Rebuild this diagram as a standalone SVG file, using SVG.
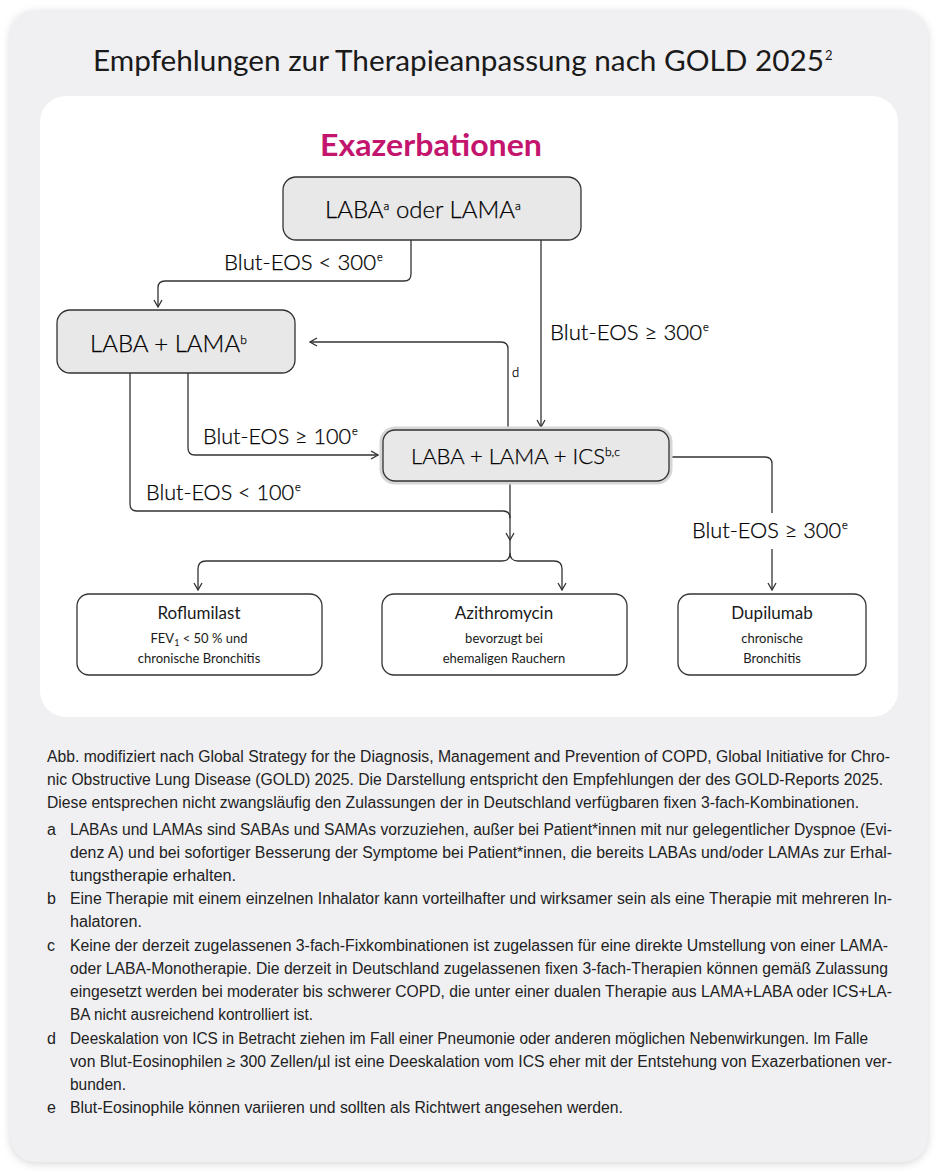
<svg xmlns="http://www.w3.org/2000/svg" width="939" height="1174" viewBox="0 0 939 1174">
<defs>
<style>
.box{fill:#e8e8e8;stroke:#333;stroke-width:1.3}
.wbox{fill:#fff;stroke:#333;stroke-width:1.3}
.ln{fill:none;stroke:#333;stroke-width:1.3}
.t{font-family:Lato,"Open Sans","Liberation Sans",sans-serif;fill:#1a1a1a}
.l{font-weight:300;fill:#000;stroke:#000;stroke-width:0.25}
.fn{font-family:"Liberation Sans",Arial,sans-serif;font-size:16px;fill:#222}
</style>
<marker id="ar" viewBox="0 0 10 10" refX="9" refY="5" markerWidth="10" markerHeight="10" markerUnits="userSpaceOnUse" orient="auto">
<path d="M2,1 L9,5 L2,9" fill="none" stroke="#333" stroke-width="1.3"/>
</marker>
<filter id="sh" x="-5%" y="-5%" width="110%" height="110%">
<feGaussianBlur stdDeviation="4"/>
</filter>
</defs>
<rect x="0" y="0" width="939" height="1174" fill="#fff"/>
<rect x="10" y="12" width="918" height="1152" rx="26" fill="#d8d8da" filter="url(#sh)"/>
<rect x="10" y="10" width="918" height="1152" rx="26" fill="#f0f0f2"/>
<text class="t" x="93" y="71" font-size="28" textLength="731" lengthAdjust="spacingAndGlyphs">Empfehlungen zur Therapieanpassung nach GOLD 2025</text>
<text class="t" x="825" y="60" font-size="13">2</text>
<rect x="40" y="96" width="858" height="621" rx="26" fill="#fff"/>
<text x="431" y="156" text-anchor="middle" font-family="Lato,'Open Sans','Liberation Sans',sans-serif" font-weight="bold" font-size="31" fill="#c3146e" textLength="222" lengthAdjust="spacingAndGlyphs">Exazerbationen</text>

<g id="connectors">
<path class="ln" d="M411,240 V274 Q411,281 404,281 H165 Q158,281 158,288 V307" marker-end="url(#ar)"/>
<path class="ln" d="M541,240 V427" marker-end="url(#ar)"/>
<path class="ln" d="M508,430 V349 Q508,342 501,342 H310" marker-end="url(#ar)"/>
<path class="ln" d="M188,373 V448 Q188,455 195,455 H378" marker-end="url(#ar)"/>
<path class="ln" d="M130,373 V504 Q130,511 137,511 H503 Q510,511 510,518"/>
<path class="ln" d="M510,481 V540" marker-end="url(#ar)"/>
<path class="ln" d="M510,540 V553 Q510,561 502,561 H206 Q198,561 198,569 V590" marker-end="url(#ar)"/>
<path class="ln" d="M510,553 Q510,561 518,561 H554 Q562,561 562,569 V590" marker-end="url(#ar)"/>
<path class="ln" d="M669,457 H765 Q772,457 772,464 V513"/>
<path class="ln" d="M772,549 V590" marker-end="url(#ar)"/>
<text class="t l" x="224" y="270" font-size="21" textLength="152" lengthAdjust="spacingAndGlyphs">Blut-EOS &lt; 300</text><text class="t l" x="377" y="261" font-size="11">e</text>
<text class="t l" x="550" y="340" font-size="21" textLength="152" lengthAdjust="spacingAndGlyphs">Blut-EOS ≥ 300</text><text class="t l" x="703" y="331" font-size="11">e</text>
<text class="t l" x="512" y="377" font-size="13">d</text>
<text class="t l" x="203" y="444" font-size="21" textLength="148" lengthAdjust="spacingAndGlyphs">Blut-EOS ≥ 100</text><text class="t l" x="352" y="435" font-size="11">e</text>
<text class="t l" x="146" y="500" font-size="21" textLength="148" lengthAdjust="spacingAndGlyphs">Blut-EOS &lt; 100</text><text class="t l" x="295" y="491" font-size="11">e</text>
<text class="t l" x="692" y="538" font-size="21" textLength="149" lengthAdjust="spacingAndGlyphs">Blut-EOS ≥ 300</text><text class="t l" x="842" y="529" font-size="11">e</text>
</g>

<g id="node-laba-oder-lama">
<rect class="box" x="283" y="177" width="298" height="63" rx="13"/>
<text class="t l" x="325" y="218" font-size="24">LABA<tspan font-size="12" dy="-8">a</tspan><tspan dy="8"> oder LAMA</tspan><tspan font-size="12" dy="-8">a</tspan></text>
</g>
<g id="node-laba-lama">
<rect class="box" x="57" y="310" width="238" height="63" rx="13"/>
<text class="t l" x="90" y="352" font-size="24">LABA + LAMA<tspan font-size="12" dy="-8">b</tspan></text>
</g>
<g id="node-laba-lama-ics">
<rect x="383" y="430" width="286" height="51" rx="12" fill="none" stroke="#d6d6d6" stroke-width="7"/>
<rect class="box" x="383" y="430" width="286" height="51" rx="12"/>
<text class="t l" x="411" y="464" font-size="22">LABA + LAMA + ICS<tspan font-size="12" dy="-8">b,c</tspan></text>
</g>
<g id="node-roflumilast">
<rect class="wbox" x="77" y="594" width="245" height="81" rx="12"/>
<text class="t" x="199" y="619" font-size="17" text-anchor="middle">Roflumilast</text>
<text class="t" x="199" y="643" font-size="13" text-anchor="middle">FEV<tspan font-size="9" dy="3">1</tspan><tspan dy="-3"> &lt; 50 % und</tspan></text>
<text class="t" x="199" y="663" font-size="13" text-anchor="middle">chronische Bronchitis</text>
</g>
<g id="node-azithromycin">
<rect class="wbox" x="382" y="594" width="245" height="81" rx="12"/>
<text class="t" x="504" y="619" font-size="17" text-anchor="middle">Azithromycin</text>
<text class="t" x="504" y="643" font-size="13" text-anchor="middle">bevorzugt bei</text>
<text class="t" x="504" y="663" font-size="13" text-anchor="middle">ehemaligen Rauchern</text>
</g>
<g id="node-dupilumab">
<rect class="wbox" x="678" y="594" width="188" height="81" rx="12"/>
<text class="t" x="772" y="619" font-size="17" text-anchor="middle">Dupilumab</text>
<text class="t" x="772" y="643" font-size="13" text-anchor="middle">chronische</text>
<text class="t" x="772" y="663" font-size="13" text-anchor="middle">Bronchitis</text>
</g>

<g id="footnotes">
<text class="fn" x="47" y="762" textLength="843" lengthAdjust="spacingAndGlyphs">Abb. modifiziert nach Global Strategy for the Diagnosis, Management and Prevention of COPD, Global Initiative for Chro-</text>
<text class="fn" x="47" y="785" textLength="836" lengthAdjust="spacingAndGlyphs">nic Obstructive Lung Disease (GOLD) 2025. Die Darstellung entspricht den Empfehlungen der des GOLD-Reports 2025.</text>
<text class="fn" x="47" y="808" textLength="812" lengthAdjust="spacingAndGlyphs">Diese entsprechen nicht zwangsläufig den Zulassungen der in Deutschland verfügbaren fixen 3-fach-Kombinationen.</text>
<text class="fn" x="47" y="835">a</text>
<text class="fn" x="70" y="835" textLength="822" lengthAdjust="spacingAndGlyphs">LABAs und LAMAs sind SABAs und SAMAs vorzuziehen, außer bei Patient*innen mit nur gelegentlicher Dyspnoe (Evi-</text>
<text class="fn" x="70" y="858" textLength="822" lengthAdjust="spacingAndGlyphs">denz A) und bei sofortiger Besserung der Symptome bei Patient*innen, die bereits LABAs und/oder LAMAs zur Erhal-</text>
<text class="fn" x="70" y="881" textLength="166" lengthAdjust="spacingAndGlyphs">tungstherapie erhalten.</text>
<text class="fn" x="47" y="904">b</text>
<text class="fn" x="70" y="904" textLength="822" lengthAdjust="spacingAndGlyphs">Eine Therapie mit einem einzelnen Inhalator kann vorteilhafter und wirksamer sein als eine Therapie mit mehreren In-</text>
<text class="fn" x="70" y="927" textLength="72" lengthAdjust="spacingAndGlyphs">halatoren.</text>
<text class="fn" x="47" y="951">c</text>
<text class="fn" x="70" y="951" textLength="818" lengthAdjust="spacingAndGlyphs">Keine der derzeit zugelassenen 3-fach-Fixkombinationen ist zugelassen für eine direkte Umstellung von einer LAMA-</text>
<text class="fn" x="70" y="974" textLength="818" lengthAdjust="spacingAndGlyphs">oder LABA-Monotherapie. Die derzeit in Deutschland zugelassenen fixen 3-fach-Therapien können gemäß Zulassung</text>
<text class="fn" x="70" y="997" textLength="822" lengthAdjust="spacingAndGlyphs">eingesetzt werden bei moderater bis schwerer COPD, die unter einer dualen Therapie aus LAMA+LABA oder ICS+LA-</text>
<text class="fn" x="70" y="1020" textLength="243" lengthAdjust="spacingAndGlyphs">BA nicht ausreichend kontrolliert ist.</text>
<text class="fn" x="47" y="1044">d</text>
<text class="fn" x="70" y="1044" textLength="798" lengthAdjust="spacingAndGlyphs">Deeskalation von ICS in Betracht ziehen im Fall einer Pneumonie oder anderen möglichen Nebenwirkungen. Im Falle</text>
<text class="fn" x="70" y="1067" textLength="822" lengthAdjust="spacingAndGlyphs">von Blut-Eosinophilen ≥ 300 Zellen/µl ist eine Deeskalation vom ICS eher mit der Entstehung von Exazerbationen ver-</text>
<text class="fn" x="70" y="1090" textLength="56" lengthAdjust="spacingAndGlyphs">bunden.</text>
<text class="fn" x="47" y="1113">e</text>
<text class="fn" x="70" y="1113" textLength="553" lengthAdjust="spacingAndGlyphs">Blut-Eosinophile können variieren und sollten als Richtwert angesehen werden.</text>
</g>
</svg>
